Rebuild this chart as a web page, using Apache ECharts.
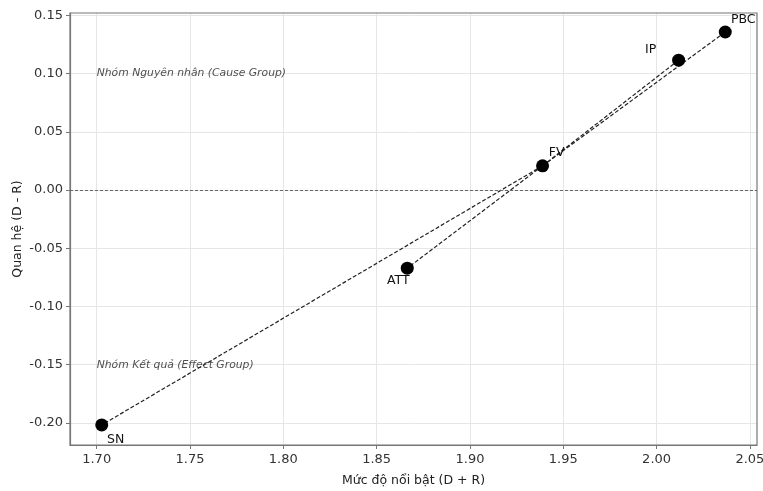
<!DOCTYPE html>
<html>
<head>
<meta charset="utf-8">
<script src="https://cdn.jsdelivr.net/npm/echarts@6/dist/echarts.min.js"></script>
<style>
  html, body { margin: 0; padding: 0; background: #fff; }
  #chart { width: 763px; height: 491px; }
</style>
</head>
<body>
<div id="chart"></div>
<script>
// factor names and DEMATEL values
var factors = ['SN', 'ATT', 'FV', 'IP', 'PBC']
var prominence = [1.7027, 1.8664, 1.9389, 2.0118, 2.0368] // D + R
var relation = [-0.2017, -0.0671, 0.0208, 0.1115, 0.1357] // D - R

// connections between factors
var edges = [['FV', 'SN'], ['FV', 'ATT'], ['FV', 'IP'], ['FV', 'PBC']]

// axis ticks
var xTicks = [1.70, 1.75, 1.80, 1.85, 1.90, 1.95, 2.00, 2.05]
var yTicks = [-0.20, -0.15, -0.10, -0.05, 0.00, 0.05, 0.10, 0.15]

// group notes
var groupNotes = ['Nhóm Nguyên nhân (Cause Group)', 'Nhóm Kết quả (Effect Group)']
var groupNoteX = [1.70, 1.70]
var groupNoteY = [0.10, -0.15]

// label offsets in px (style only)
var labelOffsets = [[14, 15], [-9, 13], [14, -13], [-28, -10], [18, -12]]

var font = 'DejaVu Sans'

function pos(name) {
  var i = factors.indexOf(name)
  return [prominence[i], relation[i]]
}

var pointData = factors.map(function (name, i) {
  return {
    name: name,
    value: [prominence[i], relation[i]],
    label: { offset: labelOffsets[i] }
  }
})

var edgeData = edges.map(function (e) {
  return { coords: [pos(e[0]), pos(e[1])] }
})

var noteData = groupNotes.map(function (t, i) {
  return { name: t, value: [groupNoteX[i], groupNoteY[i]] }
})

var chart = echarts.init(document.getElementById('chart'))
chart.setOption({
  animation: false,
  grid: { left: 70, right: 6, top: 13, bottom: 46, containLabel: false, outerBoundsMode: 'none' },
  xAxis: {
    type: 'value',
    min: 1.6857,
    max: 2.0538,
    name: 'Mức độ nổi bật (D + R)',
    nameLocation: 'middle',
    nameGap: 29,
    nameTextStyle: { fontFamily: font, fontSize: 12.5, color: '#222' },
    axisLine: { show: true, onZero: false, lineStyle: { color: '#777', width: 1.2 } },
    axisTick: { show: true, length: 4, customValues: xTicks, lineStyle: { color: '#777' } },
    axisLabel: {
      customValues: xTicks,
      fontFamily: font, fontSize: 13, color: '#333', margin: 8,
      formatter: function (v) { return v.toFixed(2) }
    },
    splitLine: { show: true, lineStyle: { color: '#e6e6e6', width: 1 } }
  },
  yAxis: {
    type: 'value',
    min: -0.2189,
    max: 0.152,
    name: 'Quan hệ (D - R)',
    nameLocation: 'middle',
    nameGap: 46,
    nameMoveOverlap: false,
    nameTextStyle: { fontFamily: font, fontSize: 12.5, color: '#222' },
    axisLine: { show: true, onZero: false, lineStyle: { color: '#777', width: 1.2 } },
    axisTick: { show: true, length: 4, customValues: yTicks, lineStyle: { color: '#777' } },
    axisLabel: {
      customValues: yTicks,
      fontFamily: font, fontSize: 13, color: '#333', margin: 7,
      formatter: function (v) { return v.toFixed(2) }
    },
    splitLine: { show: true, lineStyle: { color: '#e6e6e6', width: 1 } }
  },
  series: [
    {
      type: 'lines',
      coordinateSystem: 'cartesian2d',
      z: 2,
      symbol: ['none', 'none'],
      lineStyle: { color: '#222', width: 1.2, type: [4, 2], opacity: 1 },
      data: edgeData
    },
    {
      type: 'scatter',
      z: 3,
      symbolSize: 13,
      itemStyle: { color: '#000', opacity: 1 },
      label: {
        show: true,
        position: 'inside',
        formatter: '{b}',
        fontFamily: font,
        fontSize: 12.5,
        color: '#111'
      },
      data: pointData,
      markLine: {
        silent: true,
        symbol: ['none', 'none'],
        label: { show: false },
        lineStyle: { color: '#666', type: [3, 2], width: 1 },
        data: [{ yAxis: 0 }]
      }
    },
    {
      type: 'scatter',
      z: 1,
      symbolSize: 0,
      silent: true,
      label: {
        show: true,
        position: 'right',
        distance: 0,
        formatter: '{b}',
        fontFamily: font,
        fontStyle: 'italic',
        fontSize: 10.8,
        color: '#222'
      },
      data: noteData
    }
  ]
})

// top and right frame lines like the matplotlib box
var gr = chart.getModel().getComponent('grid').coordinateSystem.getRect()
chart.setOption({
  graphic: [{
    type: 'rect',
    silent: true,
    z: 0,
    shape: { x: gr.x, y: gr.y, width: gr.width, height: gr.height },
    style: { fill: 'none', stroke: '#777', lineWidth: 1.2 }
  }]
})
</script>
</body>
</html>
